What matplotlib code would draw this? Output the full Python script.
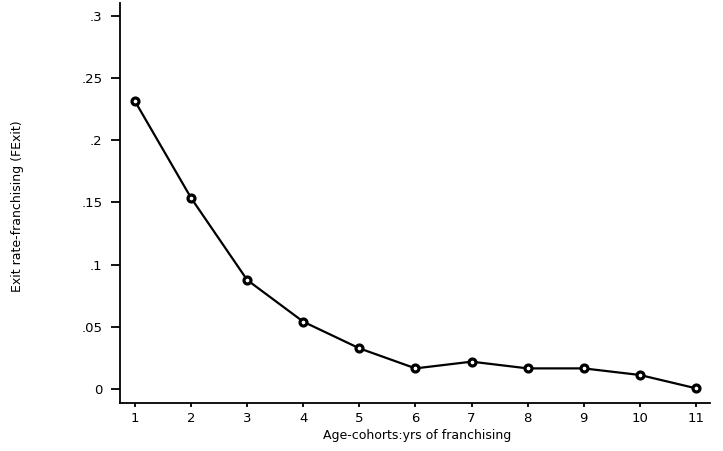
import numpy as np
import matplotlib.pyplot as plt

# data
cohort = [1, 2, 3, 4, 5, 6, 7, 8, 9, 10, 11]
exit_rate = [0.2312, 0.1535, 0.0876, 0.0541, 0.0327, 0.0166, 0.0220,
             0.0166, 0.0166, 0.0113, 0.0006]
yticks = [0, 0.05, 0.1, 0.15, 0.2, 0.25, 0.3]
ytick_labels = ['0', '.05', '.1', '.15', '.2', '.25', '.3']

plt.rcParams['font.family'] = ['DejaVu Sans']

fig = plt.figure(figsize=(7.23, 4.51), dpi=100)
ax = fig.add_axes([0.166, 0.107, 0.816, 0.886])

ax.plot(cohort, exit_rate, color='black', lw=1.6,
        marker='o', ms=5, mfc='white', mec='black', mew=2.3)

ax.set_xlim(0.733, 11.25)
ax.set_ylim(-0.011, 0.310)
ax.set_xticks(cohort)
ax.set_xticklabels([str(c) for c in cohort])
ax.set_yticks(yticks)
ax.set_yticklabels(ytick_labels)

ax.spines['top'].set_visible(False)
ax.spines['right'].set_visible(False)
ax.spines['left'].set_linewidth(1.3)
ax.spines['bottom'].set_linewidth(1.3)
ax.tick_params(axis='y', length=6.5, width=1.3, labelsize=9.5, pad=6)
ax.tick_params(axis='x', length=3, width=1.3, labelsize=9.5, pad=4)

ax.set_xlabel('Age-cohorts:yrs of franchising', fontsize=9)
ax.set_ylabel('Exit rate-franchising (FExit)', fontsize=9)
ax.xaxis.set_label_coords(0.503, -0.065)
ax.yaxis.set_label_coords(-0.162, 0.492)

fig.savefig('out.png', dpi=100)
